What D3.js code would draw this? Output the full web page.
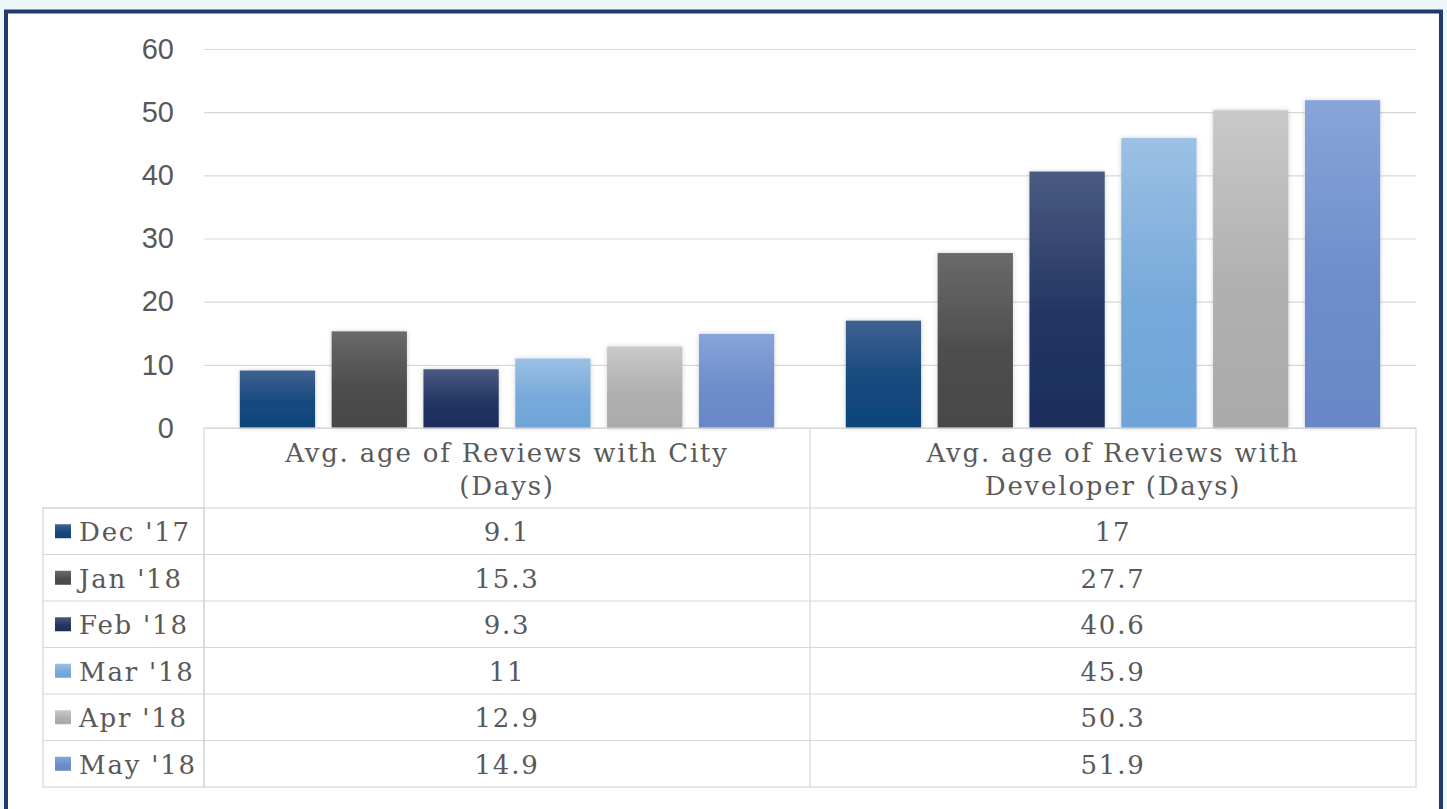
<!DOCTYPE html>
<html>
<head>
<meta charset="utf-8">
<script src="https://cdn.jsdelivr.net/npm/d3@7"></script>
<style>
  html, body { margin: 0; padding: 0; background: #eef6fb; }
  svg { display: block; }
</style>
</head>
<body>
<div id="chart"></div>
<script>
// data
const categories = ["Avg. age of Reviews with City (Days)", "Avg. age of Reviews with Developer (Days)"];
const headerLines = [["Avg. age of Reviews with City", "(Days)"], ["Avg. age of Reviews with", "Developer (Days)"]];
const months = ["Dec '17", "Jan '18", "Feb '18", "Mar '18", "Apr '18", "May '18"];
const cityValues = [9.1, 15.3, 9.3, 11, 12.9, 14.9];
const developerValues = [17, 27.7, 40.6, 45.9, 50.3, 51.9];
const yTicks = [0, 10, 20, 30, 40, 50, 60];

// colours, top and bottom of each bar's gradient
const colorsTop = ["#3f6190", "#6a6a6a", "#4a5b81", "#9cc0e4", "#c9c9c9", "#88a5d8"];
const colorsBottom = ["#0d4479", "#474747", "#1b2d5c", "#6ea4d8", "#aaaaaa", "#6787c6"];

const series = months.map((m, i) => ({ month: m, values: [cityValues[i], developerValues[i]] }));

const W = 1447, H = 809;
const plotLeft = 204, plotRight = 1416, plotTop = 49, base = 428;
const rowH = 46.5, headerH = 80, legendX = 43;

const svg = d3.select("#chart").append("svg")
  .attr("width", W).attr("height", H);

// frame
svg.append("rect").attr("x", 6).attr("y", 11.5).attr("width", 1435).attr("height", 820)
  .attr("fill", "#fff").attr("stroke", "#1f3a6c").attr("stroke-width", 4);

const defs = svg.append("defs");
months.forEach((m, i) => {
  const g = defs.append("linearGradient").attr("id", "grad" + i)
    .attr("x1", 0).attr("y1", 0).attr("x2", 0).attr("y2", 1);
  g.append("stop").attr("offset", "0%").attr("stop-color", colorsTop[i]);
  g.append("stop").attr("offset", "55%").attr("stop-color", d3.interpolateRgb(colorsTop[i], colorsBottom[i])(0.8));
  g.append("stop").attr("offset", "100%").attr("stop-color", colorsBottom[i]);
});
const shadow = defs.append("filter").attr("id", "shadow")
  .attr("x", "-20%").attr("y", "-10%").attr("width", "140%").attr("height", "120%");
shadow.append("feDropShadow").attr("dx", 0).attr("dy", 0).attr("stdDeviation", 2.5)
  .attr("flood-color", "#000").attr("flood-opacity", 0.18);

const y = d3.scaleLinear().domain([0, 60]).range([base, plotTop]);
const x0 = d3.scaleBand().domain(categories).range([plotLeft, plotRight]);
const x1 = d3.scaleBand().domain(months).range([0, x0.bandwidth()])
  .paddingInner(0.18).paddingOuter(0.39);

// gridlines + tick labels
const yAxis = d3.axisLeft(y).tickValues(yTicks).tickSize(-(plotRight - plotLeft)).tickPadding(30);
const ga = svg.append("g").attr("transform", "translate(" + plotLeft + ",0)").call(yAxis);
ga.select(".domain").remove();
ga.selectAll(".tick line").attr("stroke", "#d9d9d9").attr("stroke-width", 1.2);
ga.selectAll(".tick text")
  .attr("fill", "#595959")
  .style("font-family", "'Liberation Sans', Arial, sans-serif")
  .style("font-size", "29px");

// bars
const groups = svg.selectAll("g.cat").data(categories).enter().append("g")
  .attr("class", "cat")
  .attr("transform", d => "translate(" + x0(d) + ",0)");
groups.each(function(cat, ci) {
  d3.select(this).selectAll("rect").data(series).enter().append("rect")
    .attr("x", d => x1(d.month))
    .attr("width", x1.bandwidth())
    .attr("y", d => y(d.values[ci]))
    .attr("height", d => base - y(d.values[ci]))
    .attr("fill", (d, i) => "url(#grad" + i + ")")
    .attr("filter", "url(#shadow)");
});

// data table
const tbl = svg.append("g");
const lineColor = "#d6d6d6";
const serif = "'DejaVu Serif', 'Liberation Serif', serif";
const rowsTop = base + headerH;
const tableBottom = rowsTop + rowH * months.length;

function label(sel) {
  return sel.attr("fill", "#595959")
    .style("font-family", serif).style("font-size", "26px")
    .style("letter-spacing", "1.8px");
}

tbl.append("rect").attr("x", plotLeft).attr("y", base).attr("width", plotRight - plotLeft)
  .attr("height", tableBottom - base).attr("fill", "none").attr("stroke", lineColor).attr("stroke-width", 1.2);
tbl.append("rect").attr("x", legendX).attr("y", rowsTop).attr("width", plotLeft - legendX)
  .attr("height", tableBottom - rowsTop).attr("fill", "none").attr("stroke", lineColor).attr("stroke-width", 1.2);
tbl.append("line").attr("x1", x0(categories[1])).attr("x2", x0(categories[1]))
  .attr("y1", base).attr("y2", tableBottom).attr("stroke", lineColor).attr("stroke-width", 1.2);
months.forEach((m, i) => {
  tbl.append("line").attr("x1", legendX).attr("x2", plotRight)
    .attr("y1", rowsTop + rowH * i).attr("y2", rowsTop + rowH * i)
    .attr("stroke", lineColor).attr("stroke-width", 1.2);
});

// header text
categories.forEach((c, ci) => {
  const cx = x0(c) + x0.bandwidth() / 2;
  headerLines[ci].forEach((ln, li) => {
    tbl.append("text").attr("x", cx).attr("y", base + 34 + li * 33)
      .attr("text-anchor", "middle")
      .call(label)
      .text(ln);
  });
});

// legend cells + values
series.forEach((s, i) => {
  const cy = rowsTop + rowH * i + rowH / 2;
  tbl.append("rect").attr("x", 55).attr("y", cy - 7).attr("width", 16).attr("height", 14)
    .attr("fill", "url(#grad" + i + ")");
  tbl.append("text").attr("x", 79).attr("y", cy + 10)
    .call(label)
    .text(s.month);
  s.values.forEach((v, ci) => {
    tbl.append("text").attr("x", x0(categories[ci]) + x0.bandwidth() / 2).attr("y", cy + 10)
      .attr("text-anchor", "middle")
      .call(label)
      .text(v);
  });
});
</script>
</body>
</html>
